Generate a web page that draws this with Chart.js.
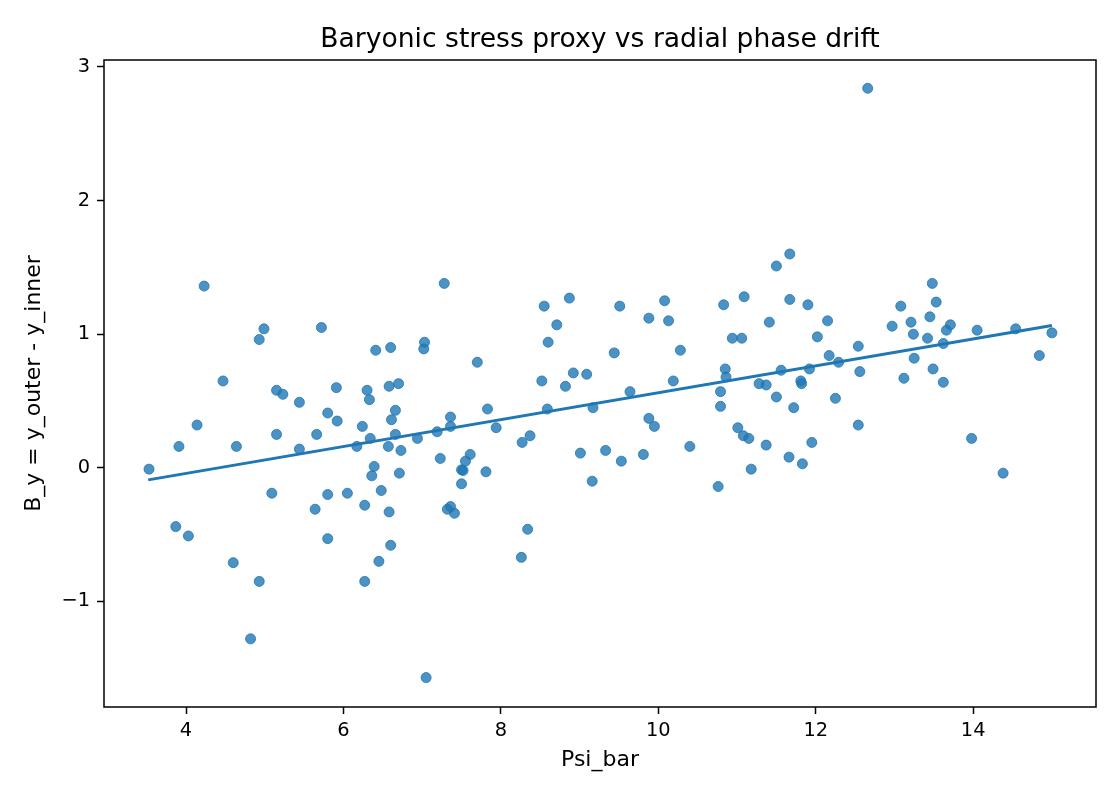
<!DOCTYPE html>
<html>
<head>
<meta charset="utf-8">
<script src="https://cdn.jsdelivr.net/npm/chart.js@4"></script>
<style>
  html, body { margin: 0; padding: 0; background: #fff; }
  #wrap { width: 1120px; height: 800px; }
</style>
</head>
<body>
<div id="wrap"><canvas id="scatter"></canvas></div>
<script>
// valeurs
const psiBar = [
  3.53, 3.87, 3.91, 4.03, 4.14, 4.23, 4.47, 4.60, 4.64, 4.82, 4.93, 4.93, 4.99, 5.09, 5.15, 5.15,
  5.23, 5.44, 5.44, 5.64, 5.66, 5.72, 5.80, 5.80, 5.80, 5.91, 5.92,
  6.05, 6.17, 6.24, 6.27, 6.27, 6.30, 6.33, 6.34, 6.36, 6.39, 6.41, 6.45, 6.48, 6.57, 6.58, 6.58,
  6.60, 6.61, 6.60, 6.66, 6.66, 6.70, 6.71, 6.73, 6.94, 7.02, 7.03, 7.05, 7.19, 7.23, 7.28, 7.32,
  7.36, 7.41, 7.36, 7.36, 7.50, 7.50, 7.52, 7.55, 7.61, 7.70, 7.81, 7.83, 7.94,
  8.26, 8.27, 8.34, 8.37, 8.52, 8.55, 8.59, 8.60, 8.71, 8.82, 8.87, 8.92, 9.01, 9.09, 9.16, 9.17,
  9.33, 9.44, 9.51, 9.53, 9.64, 9.81, 9.88, 9.88, 9.95,
  10.08, 10.13, 10.19, 10.28, 10.40, 10.76, 10.79, 10.79, 10.83, 10.85, 10.86, 10.94, 11.01, 11.06,
  11.08, 11.09, 11.15, 11.18, 11.28, 11.37, 11.37, 11.41, 11.50, 11.50, 11.56, 11.66, 11.67, 11.67,
  11.72, 11.81, 11.82, 11.83, 11.90, 11.92, 11.95,
  12.02, 12.15, 12.17, 12.25, 12.29, 12.54, 12.54, 12.56, 12.66, 12.97, 13.08, 13.12, 13.21, 13.24,
  13.25, 13.42, 13.45, 13.48, 13.49, 13.53, 13.62, 13.62, 13.66, 13.71, 13.98, 14.05, 14.38, 14.54,
  14.84, 15.00
];
const bY = [
  -0.01, -0.44, 0.16, -0.51, 0.32, 1.36, 0.65, -0.71, 0.16, -1.28, 0.96, -0.85, 1.04, -0.19, 0.58, 0.25,
  0.55, 0.49, 0.14, -0.31, 0.25, 1.05, 0.41, -0.20, -0.53, 0.60, 0.35,
  -0.19, 0.16, 0.31, -0.28, -0.85, 0.58, 0.51, 0.22, -0.06, 0.01, 0.88, -0.70, -0.17, 0.16, 0.61, -0.33,
  0.90, 0.36, -0.58, 0.25, 0.43, 0.63, -0.04, 0.13, 0.22, 0.89, 0.94, -1.57, 0.27, 0.07, 1.38, -0.31,
  -0.29, -0.34, 0.38, 0.31, -0.12, -0.015, -0.02, 0.05, 0.10, 0.79, -0.03, 0.44, 0.30,
  -0.67, 0.19, -0.46, 0.24, 0.65, 1.21, 0.44, 0.94, 1.07, 0.61, 1.27, 0.71, 0.11, 0.70, -0.10, 0.45,
  0.13, 0.86, 1.21, 0.05, 0.57, 0.10, 1.12, 0.37, 0.31,
  1.25, 1.10, 0.65, 0.88, 0.16, -0.14, 0.57, 0.46, 1.22, 0.74, 0.68, 0.97, 0.30, 0.97,
  0.24, 1.28, 0.22, -0.01, 0.63, 0.62, 0.17, 1.09, 1.51, 0.53, 0.73, 0.08, 1.60, 1.26,
  0.45, 0.65, 0.63, 0.03, 1.22, 0.74, 0.19,
  0.98, 1.10, 0.84, 0.52, 0.79, 0.91, 0.32, 0.72, 2.84, 1.06, 1.21, 0.67, 1.09, 1.00,
  0.82, 0.97, 1.13, 1.38, 0.74, 1.24, 0.93, 0.64, 1.03, 1.07, 0.22, 1.03, -0.04, 1.04,
  0.84, 1.01
];
// droite d'ajustement (extrémités)
const fitX = [3.52, 15.0];
const fitY = [-0.09, 1.065];

const xTicks = [4, 6, 8, 10, 12, 14];
const yTicks = [-1, 0, 1, 2, 3];

const titleText = 'Baryonic stress proxy vs radial phase drift';
const blue = '#1f77b4';
const fontFam = '"DejaVu Sans", sans-serif';

// cadre complet + titre centré sur la zone du graphique
const frame = {
  id: 'frame',
  afterDraw(chart) {
    const { ctx, chartArea: a } = chart;
    ctx.save();
    ctx.strokeStyle = '#000';
    ctx.lineWidth = 1.5;
    ctx.strokeRect(a.left, a.top, a.right - a.left, a.bottom - a.top);

    ctx.fillStyle = '#000';
    ctx.font = '26.6px ' + fontFam;
    ctx.textAlign = 'center';
    ctx.textBaseline = 'middle';
    ctx.fillText(titleText, (a.left + a.right) / 2, 40.5);
    ctx.restore();
  }
};

document.addEventListener('DOMContentLoaded', () => {
  const ctx = document.getElementById('scatter').getContext('2d');

  new Chart(ctx, {
    type: 'scatter',
    data: {
      datasets: [
        {
          label: 'points',
          data: psiBar.map((x, i) => ({ x: x, y: bY[i] })),
          backgroundColor: 'rgba(31,119,180,0.8)',
          borderColor: 'rgba(31,119,180,0.8)',
          borderWidth: 1,
          pointRadius: 5,
          order: 2
        },
        {
          label: 'fit',
          type: 'line',
          data: fitX.map((x, i) => ({ x: x, y: fitY[i] })),
          borderColor: blue,
          borderWidth: 2.9,
          pointRadius: 0,
          fill: false,
          order: 1
        }
      ]
    },
    options: {
      responsive: true,
      maintainAspectRatio: false,
      animation: false,
      layout: { padding: { left: 0, right: 24, top: 60, bottom: 0 } },
      plugins: {
        legend: { display: false },
        tooltip: { enabled: false },
        title: { display: false }
      },
      scales: {
        x: {
          type: 'linear',
          min: 2.958,
          max: 15.56,
          afterBuildTicks: s => { s.ticks = xTicks.map(v => ({ value: v })); },
          afterFit: s => { s.height = 93; },
          grid: { display: true, drawOnChartArea: false, drawTicks: true, tickLength: 7, tickColor: '#000', tickWidth: 1.5 },
          border: { display: false },
          ticks: {
            color: '#000',
            padding: 5,
            maxRotation: 0,
            font: { family: fontFam, size: 19.4 },
            callback: v => String(v).replace('-', '\u2212')
          },
          title: {
            display: true,
            text: 'Psi_bar',
            color: '#000',
            font: { family: fontFam, size: 22 },
            padding: { top: 0, bottom: 27 }
          }
        },
        y: {
          type: 'linear',
          min: -1.79,
          max: 3.052,
          afterBuildTicks: s => { s.ticks = yTicks.map(v => ({ value: v })); },
          afterFit: s => { s.width = 104; },
          grid: { display: true, drawOnChartArea: false, drawTicks: true, tickLength: 7, tickColor: '#000', tickWidth: 1.5 },
          border: { display: false },
          ticks: {
            color: '#000',
            padding: 7,
            font: { family: fontFam, size: 19.4 },
            callback: v => String(v).replace('-', '\u2212')
          },
          title: {
            display: true,
            text: 'B_y = y_outer - y_inner',
            color: '#000',
            font: { family: fontFam, size: 22 },
            padding: { top: 21, bottom: 0 }
          }
        }
      }
    },
    plugins: [frame]
  });
});
</script>
</body>
</html>
